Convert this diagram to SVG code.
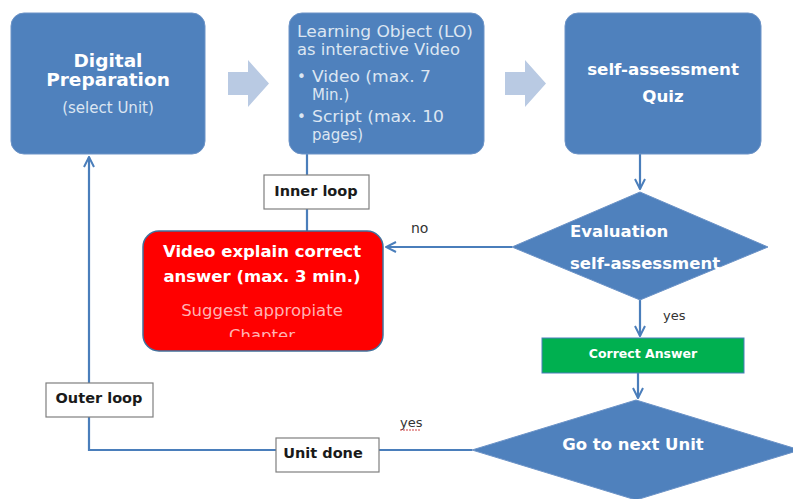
<svg xmlns="http://www.w3.org/2000/svg" width="793" height="499" viewBox="0 0 793 499">
<style>
.box{fill:#4F81BD;stroke:#6C93C7;stroke-width:1}
.blk{fill:#B9CAE3}
.ln{fill:none;stroke:#4A7EBB;stroke-width:2.2}
.lbl{fill:#fff;stroke:#7F7F7F;stroke-width:1.2}
.t{font-family:"DejaVu Sans",Verdana,sans-serif}
.w{fill:#fff;font-weight:bold}
.k{fill:#1a1a1a;font-weight:bold;font-size:14.5px}
.lt{fill:#DCE6F2;font-size:15px}
</style>
<defs>
<marker id="ah" viewBox="0 0 12 12" refX="11" refY="6" markerWidth="12" markerHeight="12" markerUnits="userSpaceOnUse" orient="auto">
<path d="M1,1 L11,6 L1,11" fill="none" stroke="#4A7EBB" stroke-width="2"/>
</marker>
<clipPath id="rc"><rect x="143" y="231" width="240" height="106"/></clipPath>
</defs>
<rect width="793" height="499" fill="#fff"/>

<g id="connectors">
<path class="ln" d="M640,154 V189" marker-end="url(#ah)"/>
<path class="ln" d="M512,247 H386" marker-end="url(#ah)"/>
<path class="ln" d="M307,154 V175 M307,209 V231"/>
<path class="ln" d="M640,300 V336" marker-end="url(#ah)"/>
<path class="ln" d="M638,373 V398" marker-end="url(#ah)"/>
<path class="ln" d="M472,450 H89 V157" marker-end="url(#ah)"/>
<polygon class="blk" points="228,72 248,72 248,60 269,83.5 248,107 248,95 228,95"/>
<polygon class="blk" points="505,72 525,72 525,60 546,83.5 525,107 525,95 505,95"/>
<text class="t" x="411" y="233" font-size="14" fill="#333">no</text>
<text class="t" x="663" y="320" font-size="13" fill="#333">yes</text>
<text class="t" x="400" y="427" font-size="13" fill="#333">yes</text>
<path d="M400,430 H421" stroke="#D04040" stroke-width="1" stroke-dasharray="2,1"/>
</g>

<g id="digital-preparation">
<rect class="box" x="11" y="13" width="194" height="141" rx="13"/>
<text class="t w" x="108" y="67" font-size="18.5" text-anchor="middle">Digital</text>
<text class="t w" x="108" y="86" font-size="18.5" text-anchor="middle">Preparation</text>
<text class="t" x="108" y="113" font-size="15" fill="#DCE6F2" text-anchor="middle">(select Unit)</text>
</g>

<g id="learning-object">
<rect class="box" x="289" y="13" width="195" height="141" rx="13"/>
<text class="t lt" x="297" y="37" textLength="176" lengthAdjust="spacingAndGlyphs">Learning Object (LO)</text>
<text class="t lt" x="297" y="55" textLength="163" lengthAdjust="spacingAndGlyphs">as interactive Video</text>
<text class="t lt" x="297" y="82">•</text>
<text class="t lt" x="312" y="82" textLength="119" lengthAdjust="spacingAndGlyphs">Video (max. 7</text>
<text class="t lt" x="312" y="100">Min.)</text>
<text class="t lt" x="297" y="122">•</text>
<text class="t lt" x="312" y="122" textLength="132" lengthAdjust="spacingAndGlyphs">Script (max. 10</text>
<text class="t lt" x="312" y="140">pages)</text>
</g>

<g id="quiz">
<rect class="box" x="565" y="13" width="196" height="141" rx="13"/>
<text class="t w" x="663" y="75" font-size="16.7" text-anchor="middle">self-assessment</text>
<text class="t w" x="663" y="102" font-size="16.7" text-anchor="middle">Quiz</text>
</g>

<g id="evaluation">
<polygon points="512,247 640,192 768,247 640,300" fill="#4F81BD" stroke="#6C93C7"/>
<text class="t w" x="570" y="237" font-size="16.5">Evaluation</text>
<text class="t w" x="570" y="269" font-size="16.5">self-assessment</text>
</g>

<g id="inner-loop">
<rect class="lbl" x="264" y="175" width="105" height="34"/>
<text class="t k" x="316" y="196" text-anchor="middle">Inner loop</text>
</g>

<g id="video-explain">
<rect x="143" y="231" width="240" height="120" rx="16" fill="#FF0000" stroke="#41719C" stroke-width="1.5"/>
<text class="t w" x="262" y="257" font-size="16.5" text-anchor="middle">Video explain correct</text>
<text class="t w" x="262" y="282" font-size="16.5" text-anchor="middle">answer (max. 3 min.)</text>
<text class="t" x="262" y="316" font-size="16.5" fill="#FFB3B3" text-anchor="middle">Suggest appropiate</text>
<text class="t" x="262" y="341" font-size="16.5" fill="#FFB3B3" text-anchor="middle" clip-path="url(#rc)">Chapter</text>
</g>

<g id="correct-answer">
<rect x="542" y="338" width="202" height="35" fill="#00B050" stroke="#4A7EBB" stroke-width="1"/>
<text class="t w" x="643" y="358" font-size="12.5" text-anchor="middle">Correct Answer</text>
</g>

<g id="next-unit">
<polygon points="472,450 636,400 800,450 636,500" fill="#4F81BD" stroke="#6C93C7"/>
<text class="t w" x="633" y="450" font-size="16.5" text-anchor="middle">Go to next Unit</text>
</g>

<g id="unit-done">
<rect class="lbl" x="276" y="438" width="103" height="34"/>
<text class="t k" x="323" y="458" text-anchor="middle">Unit done</text>
</g>

<g id="outer-loop">
<rect class="lbl" x="46" y="383" width="107" height="34"/>
<text class="t k" x="99" y="403" text-anchor="middle">Outer loop</text>
</g>
</svg>
